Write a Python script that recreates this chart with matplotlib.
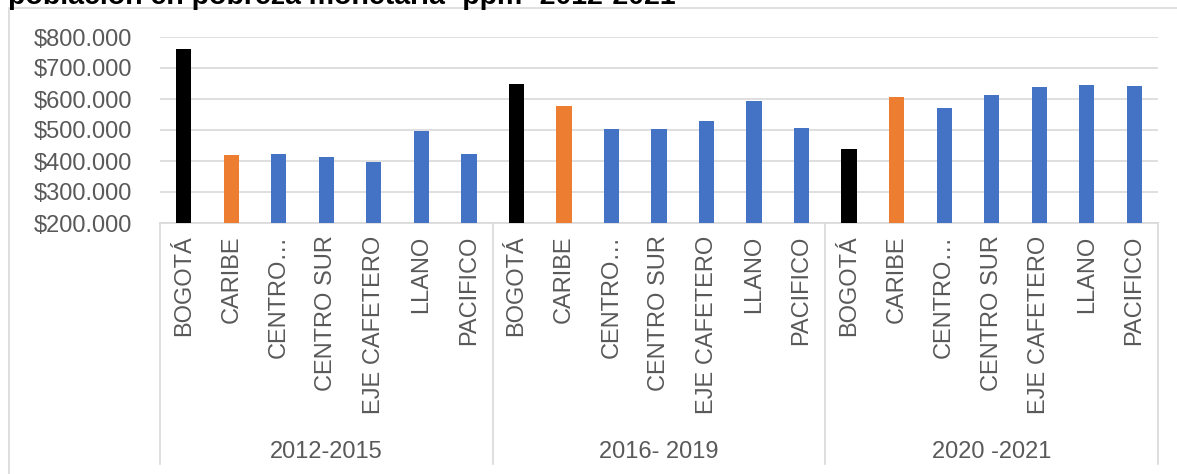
import numpy as np
import matplotlib.pyplot as plt
from matplotlib.patches import Rectangle
from matplotlib.ticker import FuncFormatter
import matplotlib.transforms as mtransforms

plt.rcParams['font.family'] = ['Liberation Sans', 'DejaVu Sans']

periods = ["2012-2015", "2016- 2019", "2020 -2021"]
regions = ["BOGOTÁ", "CARIBE", "CENTRO…", "CENTRO SUR", "EJE CAFETERO", "LLANO", "PACIFICO"]
vals_2012_2015 = [762000, 418000, 423000, 414000, 396000, 498000, 421000]
vals_2016_2019 = [650000, 576000, 504000, 502000, 528000, 595000, 508000]
vals_2020_2021 = [440000, 605000, 570000, 612000, 640000, 644000, 641000]
region_colors = ["#000000", "#ED7D31", "#4472C4", "#4472C4", "#4472C4", "#4472C4", "#4472C4"]

title = "población en pobreza monetaria -ppm- 2012-2021"

grey_txt = "#595959"
grid_col = "#D9D9D9"
fs = 17

W, H = 1177, 474
fig = plt.figure(figsize=(W / 100, H / 100), dpi=100)

# chart frame
fig.patches.append(Rectangle((9 / W, -0.05), 1.2, 1 - 8 / H + 0.05, transform=fig.transFigure,
                             fill=False, edgecolor=grid_col, lw=1.2))
# title sits mostly above the visible area, as in the source
fig.text(8 / W, 1 - 4 / H, title, fontsize=20.5, fontweight='bold', color='black',
         ha='left', va='baseline')

ax = fig.add_axes([160 / W, 1 - 223 / H, (1158 - 160) / W, (223 - 37) / H])

all_vals = vals_2012_2015 + vals_2016_2019 + vals_2020_2021
labels = regions * len(periods)
colors = region_colors * len(periods)
x = np.arange(len(all_vals))
ax.bar(x, np.array(all_vals) - 200000, bottom=200000, width=0.32, color=colors, zorder=3)

ax.set_xlim(-0.5, len(all_vals) - 0.5)
ax.set_ylim(200000, 800000)
ax.set_yticks(np.arange(200000, 800001, 100000))
ax.yaxis.set_major_formatter(FuncFormatter(lambda v, p: "$" + f"{int(v):,}".replace(",", ".")))
ax.grid(axis='y', color=grid_col, lw=1.2, zorder=0)
for s in ["top", "right", "left"]:
    ax.spines[s].set_visible(False)
ax.spines["bottom"].set_color(grid_col)
ax.spines["bottom"].set_linewidth(1.2)

ax.set_xticks(x)
ax.set_xticklabels(labels, rotation=90, va='top', ha='center')
ax.tick_params(axis='x', length=0, pad=9, labelsize=fs, labelcolor=grey_txt)
ax.tick_params(axis='y', length=0, pad=20, labelsize=fs, labelcolor=grey_txt)

# group separators and period labels
trans = mtransforms.blended_transform_factory(ax.transData, ax.transAxes)
n = len(regions)
depth = (464 - 223) / (223 - 37)
for k in range(len(periods) + 1):
    xs = k * n - 0.5
    ax.plot([xs, xs], [0, -depth], transform=trans, color=grid_col, lw=1.2, clip_on=False)
for k, per in enumerate(periods):
    ax.text(k * n + (n - 1) / 2, -(452 - 223) / (223 - 37), per, transform=trans,
            ha='center', va='center', fontsize=fs, color=grey_txt)

fig.savefig("out.png", dpi=100)
